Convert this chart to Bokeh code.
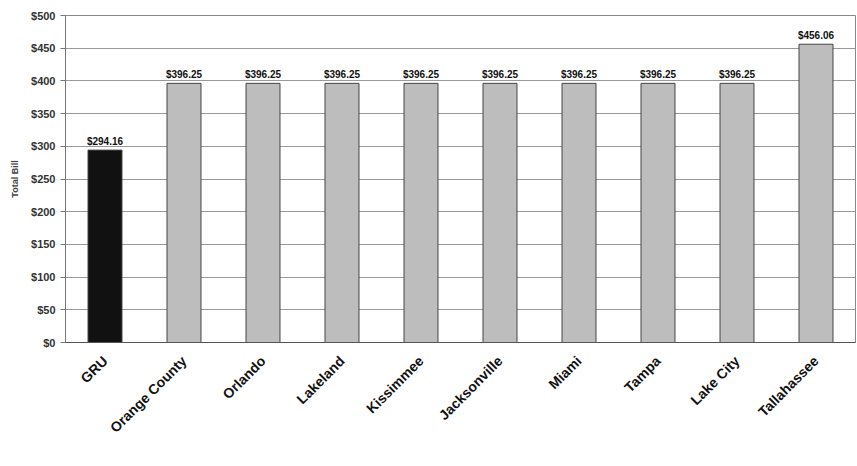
from bokeh.plotting import figure
from bokeh.models import ColumnDataSource, FixedTicker, NumeralTickFormatter
from bokeh.core.properties import value
from bokeh.embed import file_html
from bokeh.resources import INLINE
import math

cities = ["GRU", "Orange County", "Orlando", "Lakeland", "Kissimmee",
          "Jacksonville", "Miami", "Tampa", "Lake City", "Tallahassee"]
bills = [294.16, 396.25, 396.25, 396.25, 396.25, 396.25, 396.25, 396.25, 396.25, 456.06]
labels = ["$294.16", "$396.25", "$396.25", "$396.25", "$396.25", "$396.25",
          "$396.25", "$396.25", "$396.25", "$456.06"]
y_ticks = [0, 50, 100, 150, 200, 250, 300, 350, 400, 450, 500]

colors = ["#111111"] + ["#bdbdbd"] * 9

src = ColumnDataSource(dict(city=cities, bill=bills, label=labels, color=colors))

p = figure(width=857, height=466, x_range=cities, y_range=(0, 500),
           output_backend="svg", toolbar_location=None,
           min_border_left=65, min_border_right=2, min_border_top=15, min_border_bottom=124)
p.background_fill_color = "white"
p.border_fill_color = "white"
p.outline_line_color = "#888888"

p.vbar(x="city", top="bill", width=0.43, source=src, fill_color="color",
       line_color="#444444", line_width=1)
p.text(x="city", y="bill", text="label", source=src, text_align="center",
       text_baseline="bottom", y_offset=-3, text_font=value("Liberation Sans"),
       text_font_size="10px", text_font_style="bold", text_color="#111111")

p.yaxis.ticker = FixedTicker(ticks=y_ticks)
p.yaxis.formatter = NumeralTickFormatter(format="$0")
p.yaxis.axis_label = "Total Bill"
p.yaxis.axis_label_text_font = "Liberation Sans"
p.yaxis.axis_label_text_font_size = "9px"
p.yaxis.axis_label_text_font_style = "bold"
p.yaxis.axis_label_standoff = 8
p.yaxis.major_label_text_font = "Liberation Sans"
p.yaxis.major_label_text_font_size = "11px"
p.yaxis.major_label_text_font_style = "bold"
p.yaxis.major_label_text_color = "#333333"
p.yaxis.axis_line_color = "#777777"
p.yaxis.major_tick_line_color = "#777777"
p.yaxis.major_tick_in = 0
p.yaxis.major_tick_out = 5
p.yaxis.minor_tick_line_color = None

p.xaxis.major_label_orientation = math.pi / 4
p.xaxis.major_label_text_font = "Liberation Sans"
p.xaxis.major_label_text_font_size = "14px"
p.xaxis.major_label_text_font_style = "bold"
p.xaxis.major_label_text_color = "#111111"
p.xaxis.axis_line_color = "#555555"
p.xaxis.major_tick_line_color = None
p.xaxis.major_label_standoff = 10

p.xgrid.grid_line_color = None
p.ygrid.grid_line_color = "#999999"
p.ygrid.grid_line_width = 1

open("out.html", "w").write(file_html(p, INLINE))
